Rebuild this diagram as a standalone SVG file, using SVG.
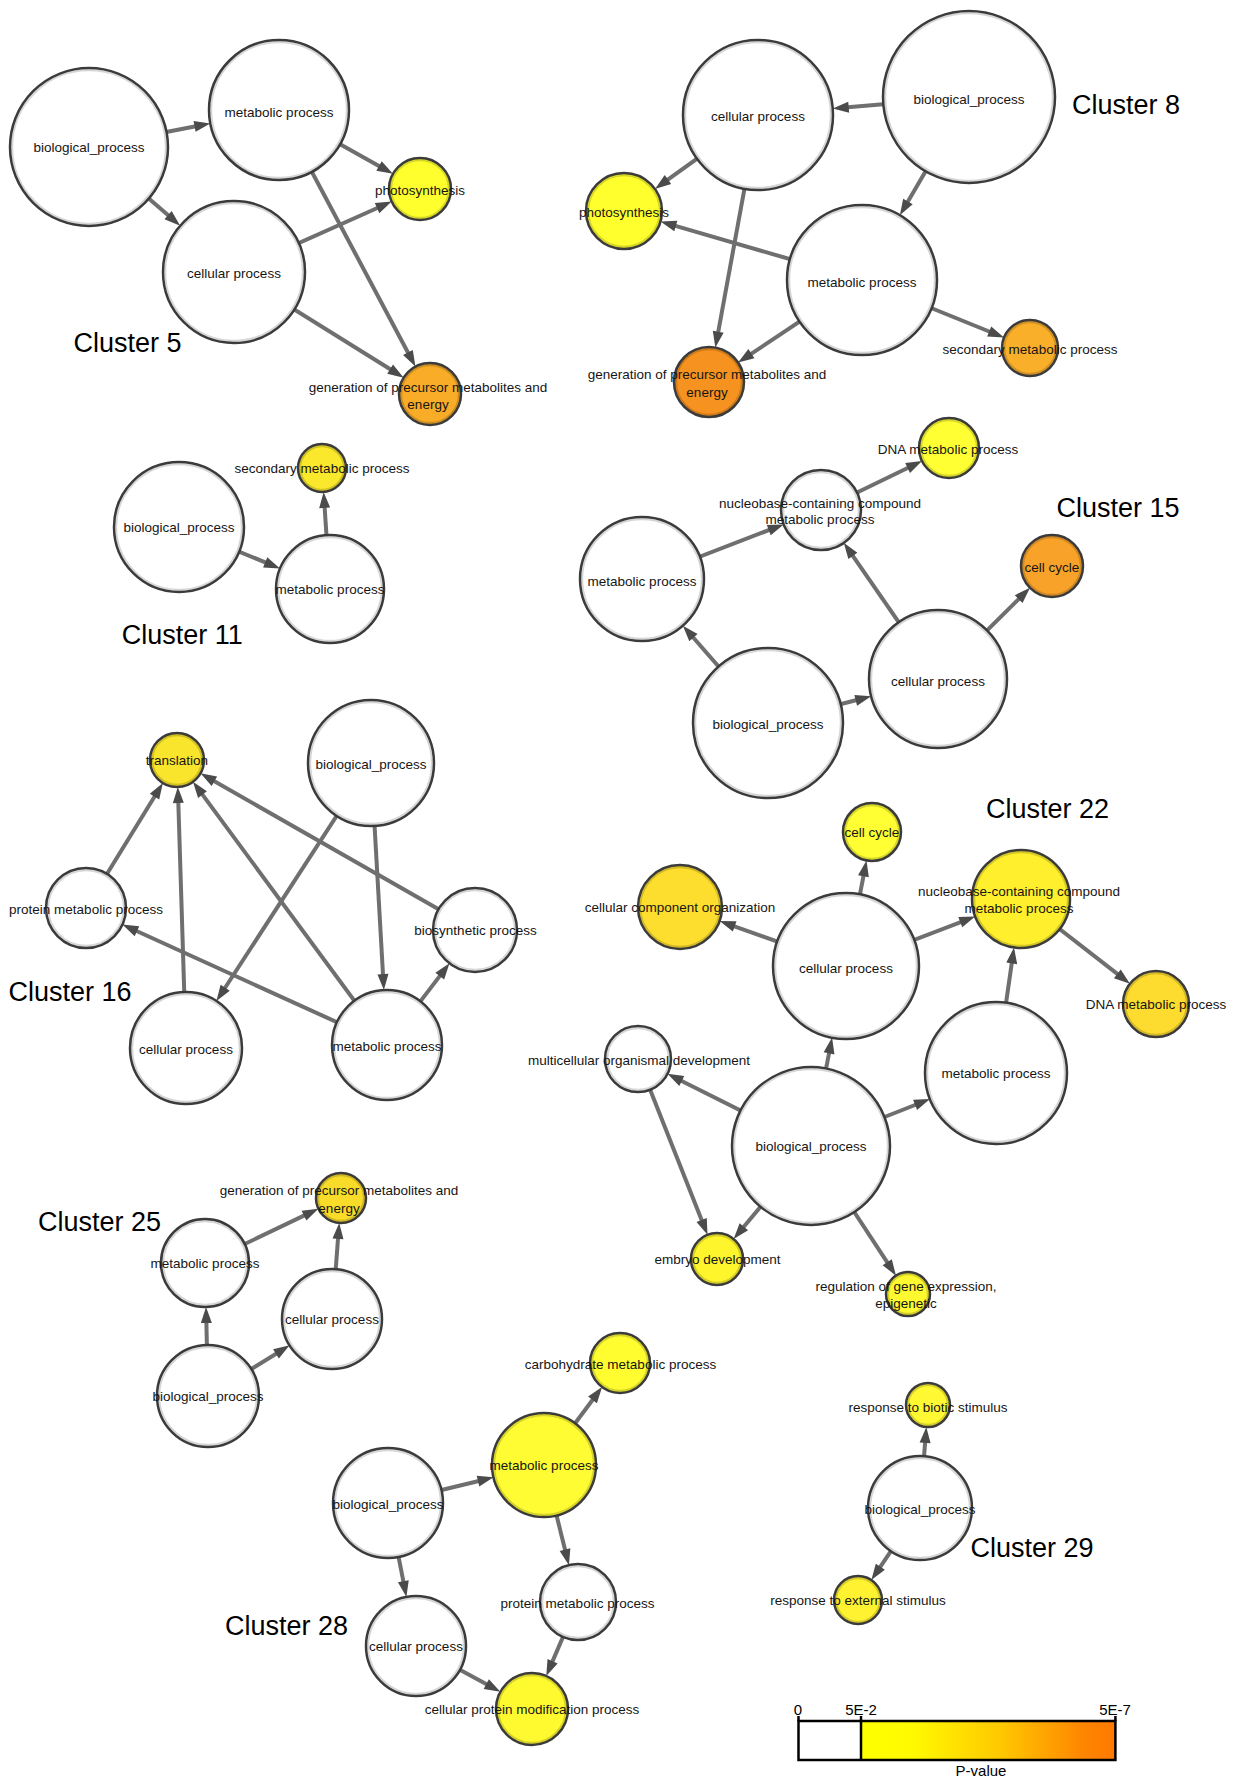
<svg xmlns="http://www.w3.org/2000/svg" width="1237" height="1779" viewBox="0 0 1237 1779">
<style>
.nd{stroke:#3b3b3b;stroke-width:2.5}
.rg{fill:none;stroke:#000;stroke-opacity:.16;stroke-width:2}
.lb{font-family:"Liberation Sans",Arial,Helvetica,sans-serif;font-size:13.5px;fill:#151515;text-anchor:middle}
.ct{font-family:"Liberation Sans",Arial,Helvetica,sans-serif;font-size:27px;fill:#000}
.lg{font-family:"Liberation Sans",Arial,Helvetica,sans-serif;font-size:15px;fill:#000;text-anchor:middle}
.e{stroke:#6f6f6f;stroke-width:4;fill:none;marker-end:url(#ah)}
</style>
<defs>
<marker id="ah" markerUnits="userSpaceOnUse" markerWidth="17" markerHeight="12" refX="4" refY="6" orient="auto" overflow="visible">
<path d="M0,0.5 L16,6 L0,11.5 z" fill="#4b4b4b"/>
</marker>
<linearGradient id="pg" x1="0" y1="0" x2="1" y2="0">
<stop offset="0" stop-color="#FFFF00"/>
<stop offset="0.2" stop-color="#FFFA00"/>
<stop offset="0.55" stop-color="#FFC800"/>
<stop offset="0.88" stop-color="#FF8400"/>
<stop offset="1" stop-color="#FF7A00"/>
</linearGradient>
</defs>
<rect width="1237" height="1779" fill="#fff"/>

<g id="edges">
<!-- Cluster 5 -->
<line class="e" x1="89" y1="147" x2="198.5" y2="125.7"/>
<line class="e" x1="89" y1="147" x2="171.1" y2="217.8"/>
<line class="e" x1="279" y1="110" x2="382.5" y2="168"/>
<line class="e" x1="279" y1="110" x2="409.8" y2="356"/>
<line class="e" x1="234" y1="272" x2="380.7" y2="206.5"/>
<line class="e" x1="234" y1="272" x2="393.5" y2="371.3"/>
<!-- Cluster 8 -->
<line class="e" x1="969" y1="97" x2="844.7" y2="107.6"/>
<line class="e" x1="758" y1="115" x2="664.7" y2="181.9"/>
<line class="e" x1="758" y1="115" x2="717.5" y2="335.8"/>
<line class="e" x1="969" y1="97" x2="905.9" y2="204.9"/>
<line class="e" x1="862" y1="280" x2="672" y2="224.9"/>
<line class="e" x1="862" y1="280" x2="748.1" y2="355.9"/>
<line class="e" x1="862" y1="280" x2="992.9" y2="333"/>
<!-- Cluster 11 -->
<line class="e" x1="179" y1="527" x2="268.9" y2="563.9"/>
<line class="e" x1="330" y1="589" x2="324.4" y2="503.9"/>
<!-- Cluster 15 -->
<line class="e" x1="821" y1="510" x2="911.2" y2="466.3"/>
<line class="e" x1="642" y1="579" x2="772.5" y2="528.7"/>
<line class="e" x1="938" y1="679" x2="850.6" y2="552.7"/>
<line class="e" x1="938" y1="679" x2="1021.5" y2="596.3"/>
<line class="e" x1="768" y1="723" x2="690.8" y2="634.7"/>
<line class="e" x1="768" y1="723" x2="859.6" y2="699.3"/>
<!-- Cluster 16 -->
<line class="e" x1="86" y1="908" x2="156.6" y2="793.2"/>
<line class="e" x1="186" y1="1048" x2="178.2" y2="799"/>
<line class="e" x1="387" y1="1045" x2="200.1" y2="791.4"/>
<line class="e" x1="475" y1="930" x2="210.9" y2="779.3"/>
<line class="e" x1="371" y1="763" x2="223" y2="991"/>
<line class="e" x1="371" y1="763" x2="383.2" y2="978.1"/>
<line class="e" x1="387" y1="1045" x2="133.3" y2="929.5"/>
<line class="e" x1="387" y1="1045" x2="442.2" y2="972.9"/>
<!-- Cluster 22 -->
<line class="e" x1="846" y1="966" x2="864.2" y2="872.3"/>
<line class="e" x1="846" y1="966" x2="730.9" y2="925.1"/>
<line class="e" x1="846" y1="966" x2="964" y2="920.8"/>
<line class="e" x1="1021" y1="899" x2="1120.5" y2="976.4"/>
<line class="e" x1="996" y1="1073" x2="1012.3" y2="959.4"/>
<line class="e" x1="811" y1="1146" x2="829.8" y2="1049.4"/>
<line class="e" x1="811" y1="1146" x2="678.2" y2="1079.2"/>
<line class="e" x1="811" y1="1146" x2="918.8" y2="1103.5"/>
<line class="e" x1="811" y1="1146" x2="741.3" y2="1229.8"/>
<line class="e" x1="811" y1="1146" x2="889.4" y2="1265.6"/>
<line class="e" x1="638" y1="1059" x2="703.1" y2="1223.7"/>
<!-- Cluster 25 -->
<line class="e" x1="205" y1="1263" x2="307.6" y2="1213.9"/>
<line class="e" x1="332" y1="1319" x2="338.3" y2="1234.9"/>
<line class="e" x1="208" y1="1396" x2="206.3" y2="1319"/>
<line class="e" x1="208" y1="1396" x2="279.4" y2="1351.7"/>
<!-- Cluster 28 -->
<line class="e" x1="544" y1="1465" x2="594.9" y2="1396.7"/>
<line class="e" x1="388" y1="1503" x2="481.9" y2="1480.2"/>
<line class="e" x1="544" y1="1465" x2="566" y2="1553.5"/>
<line class="e" x1="388" y1="1503" x2="404.1" y2="1585.2"/>
<line class="e" x1="578" y1="1602" x2="551" y2="1664.9"/>
<line class="e" x1="416" y1="1646" x2="489.8" y2="1686.1"/>
<!-- Cluster 29 -->
<line class="e" x1="920" y1="1508" x2="925.4" y2="1438.9"/>
<line class="e" x1="920" y1="1508" x2="878.1" y2="1570.1"/>
</g>

<!-- Cluster 5 nodes -->
<g id="c5-bp"><circle class="nd" cx="89" cy="147" r="79" fill="#fff"/><circle class="rg" cx="89" cy="147" r="76.8"/><text class="lb" x="89" y="152">biological_process</text></g>
<g id="c5-mp"><circle class="nd" cx="279" cy="110" r="70" fill="#fff"/><circle class="rg" cx="279" cy="110" r="67.8"/><text class="lb" x="279" y="116.5">metabolic process</text></g>
<g id="c5-cp"><circle class="nd" cx="234" cy="272" r="71" fill="#fff"/><circle class="rg" cx="234" cy="272" r="68.8"/><text class="lb" x="234" y="277.8">cellular process</text></g>
<g id="c5-ps"><circle class="nd" cx="420" cy="189" r="31" fill="#FFFF2E"/><circle class="rg" cx="420" cy="189" r="28.8"/><text class="lb" x="420" y="194.8">photosynthesis</text></g>
<g id="c5-gen"><circle class="nd" cx="430" cy="394" r="31" fill="#F8AC28"/><circle class="rg" cx="430" cy="394" r="28.8"/><text class="lb" x="428" y="391.5">generation of precursor metabolites and</text><text class="lb" x="428" y="408.8">energy</text></g>

<!-- Cluster 8 nodes -->
<g id="c8-cp"><circle class="nd" cx="758" cy="115" r="75" fill="#fff"/><circle class="rg" cx="758" cy="115" r="72.8"/><text class="lb" x="758" y="120.5">cellular process</text></g>
<g id="c8-bp"><circle class="nd" cx="969" cy="97" r="86" fill="#fff"/><circle class="rg" cx="969" cy="97" r="83.8"/><text class="lb" x="969" y="103.5">biological_process</text></g>
<g id="c8-mp"><circle class="nd" cx="862" cy="280" r="75" fill="#fff"/><circle class="rg" cx="862" cy="280" r="72.8"/><text class="lb" x="862" y="286.5">metabolic process</text></g>
<g id="c8-ps"><circle class="nd" cx="624" cy="211" r="38" fill="#FFFF2E"/><circle class="rg" cx="624" cy="211" r="35.8"/><text class="lb" x="624" y="216.8">photosynthesis</text></g>
<g id="c8-gen"><circle class="nd" cx="709" cy="382" r="35" fill="#F6921F"/><circle class="rg" cx="709" cy="382" r="32.8"/><text class="lb" x="707" y="379.1">generation of precursor metabolites and</text><text class="lb" x="707" y="396.5">energy</text></g>
<g id="c8-sec"><circle class="nd" cx="1030" cy="348" r="28" fill="#F9AF2A"/><circle class="rg" cx="1030" cy="348" r="25.8"/><text class="lb" x="1030" y="353.5">secondary metabolic process</text></g>

<!-- Cluster 11 nodes -->
<g id="c11-bp"><circle class="nd" cx="179" cy="527" r="65" fill="#fff"/><circle class="rg" cx="179" cy="527" r="62.8"/><text class="lb" x="179" y="532">biological_process</text></g>
<g id="c11-sec"><circle class="nd" cx="322" cy="468" r="24" fill="#F9E82C"/><circle class="rg" cx="322" cy="468" r="21.8"/><text class="lb" x="322" y="473.2">secondary metabolic process</text></g>
<g id="c11-mp"><circle class="nd" cx="330" cy="589" r="54" fill="#fff"/><circle class="rg" cx="330" cy="589" r="51.8"/><text class="lb" x="330" y="594.2">metabolic process</text></g>

<!-- Cluster 15 nodes -->
<g id="c15-dna"><circle class="nd" cx="949" cy="448" r="30" fill="#FFFF33"/><circle class="rg" cx="949" cy="448" r="27.8"/><text class="lb" x="948" y="453.5">DNA metabolic process</text></g>
<g id="c15-nuc"><circle class="nd" cx="821" cy="510" r="40" fill="#fff"/><circle class="rg" cx="821" cy="510" r="37.8"/><text class="lb" x="820" y="507.5">nucleobase-containing compound</text><text class="lb" x="820" y="524.1">metabolic process</text></g>
<g id="c15-mp"><circle class="nd" cx="642" cy="579" r="62" fill="#fff"/><circle class="rg" cx="642" cy="579" r="59.8"/><text class="lb" x="642" y="585.8">metabolic process</text></g>
<g id="c15-cc"><circle class="nd" cx="1052" cy="566" r="31" fill="#F9A22A"/><circle class="rg" cx="1052" cy="566" r="28.8"/><text class="lb" x="1052" y="571.5">cell cycle</text></g>
<g id="c15-cp"><circle class="nd" cx="938" cy="679" r="69" fill="#fff"/><circle class="rg" cx="938" cy="679" r="66.8"/><text class="lb" x="938" y="685.5">cellular process</text></g>
<g id="c15-bp"><circle class="nd" cx="768" cy="723" r="75" fill="#fff"/><circle class="rg" cx="768" cy="723" r="72.8"/><text class="lb" x="768" y="728.5">biological_process</text></g>

<!-- Cluster 16 nodes -->
<g id="c16-tr"><circle class="nd" cx="177" cy="760" r="27" fill="#F9E52B"/><circle class="rg" cx="177" cy="760" r="24.8"/><text class="lb" x="177" y="765.2">translation</text></g>
<g id="c16-bp"><circle class="nd" cx="371" cy="763" r="63" fill="#fff"/><circle class="rg" cx="371" cy="763" r="60.8"/><text class="lb" x="371" y="769.2">biological_process</text></g>
<g id="c16-pmp"><circle class="nd" cx="86" cy="908" r="40" fill="#fff"/><circle class="rg" cx="86" cy="908" r="37.8"/><text class="lb" x="86" y="913.8">protein metabolic process</text></g>
<g id="c16-bios"><circle class="nd" cx="475" cy="930" r="42" fill="#fff"/><circle class="rg" cx="475" cy="930" r="39.8"/><text class="lb" x="475.5" y="935.2">biosynthetic process</text></g>
<g id="c16-cp"><circle class="nd" cx="186" cy="1048" r="56" fill="#fff"/><circle class="rg" cx="186" cy="1048" r="53.8"/><text class="lb" x="186" y="1054">cellular process</text></g>
<g id="c16-mp"><circle class="nd" cx="387" cy="1045" r="55" fill="#fff"/><circle class="rg" cx="387" cy="1045" r="52.8"/><text class="lb" x="387" y="1051.3">metabolic process</text></g>

<!-- Cluster 22 nodes -->
<g id="c22-cc"><circle class="nd" cx="872" cy="832" r="29" fill="#FFFF33"/><circle class="rg" cx="872" cy="832" r="26.8"/><text class="lb" x="872" y="837.4">cell cycle</text></g>
<g id="c22-cco"><circle class="nd" cx="680" cy="907" r="42" fill="#FDDD2E"/><circle class="rg" cx="680" cy="907" r="39.8"/><text class="lb" x="680" y="912.1">cellular component organization</text></g>
<g id="c22-nuc"><circle class="nd" cx="1021" cy="899" r="49" fill="#FFEF2C"/><circle class="rg" cx="1021" cy="899" r="46.8"/><text class="lb" x="1019" y="896.3">nucleobase-containing compound</text><text class="lb" x="1019" y="913.2">metabolic process</text></g>
<g id="c22-dna"><circle class="nd" cx="1156" cy="1004" r="33" fill="#FDDC2F"/><circle class="rg" cx="1156" cy="1004" r="30.8"/><text class="lb" x="1156" y="1009.3">DNA metabolic process</text></g>
<g id="c22-cp"><circle class="nd" cx="846" cy="966" r="73" fill="#fff"/><circle class="rg" cx="846" cy="966" r="70.8"/><text class="lb" x="846" y="972.5">cellular process</text></g>
<g id="c22-mcod"><circle class="nd" cx="638" cy="1059" r="33" fill="#fff"/><circle class="rg" cx="638" cy="1059" r="30.8"/><text class="lb" x="639" y="1065.4">multicellular organismal development</text></g>
<g id="c22-mp"><circle class="nd" cx="996" cy="1073" r="71" fill="#fff"/><circle class="rg" cx="996" cy="1073" r="68.8"/><text class="lb" x="996" y="1078.4">metabolic process</text></g>
<g id="c22-bp"><circle class="nd" cx="811" cy="1146" r="79" fill="#fff"/><circle class="rg" cx="811" cy="1146" r="76.8"/><text class="lb" x="811" y="1151.3">biological_process</text></g>
<g id="c22-emb"><circle class="nd" cx="717" cy="1259" r="26" fill="#FEF52C"/><circle class="rg" cx="717" cy="1259" r="23.8"/><text class="lb" x="717.5" y="1263.9">embryo development</text></g>
<g id="c22-reg"><circle class="nd" cx="908" cy="1294" r="22" fill="#FFFA30"/><circle class="rg" cx="908" cy="1294" r="19.8"/><text class="lb" x="906" y="1291.3">regulation of gene expression,</text><text class="lb" x="906" y="1308.1">epigenetic</text></g>

<!-- Cluster 25 nodes -->
<g id="c25-gen"><circle class="nd" cx="341" cy="1198" r="25" fill="#F9DC2A"/><circle class="rg" cx="341" cy="1198" r="22.8"/><text class="lb" x="339" y="1195.2">generation of precursor metabolites and</text><text class="lb" x="339" y="1213.4">energy</text></g>
<g id="c25-mp"><circle class="nd" cx="205" cy="1263" r="44" fill="#fff"/><circle class="rg" cx="205" cy="1263" r="41.8"/><text class="lb" x="205" y="1268.1">metabolic process</text></g>
<g id="c25-cp"><circle class="nd" cx="332" cy="1319" r="50" fill="#fff"/><circle class="rg" cx="332" cy="1319" r="47.8"/><text class="lb" x="332" y="1324.4">cellular process</text></g>
<g id="c25-bp"><circle class="nd" cx="208" cy="1396" r="51" fill="#fff"/><circle class="rg" cx="208" cy="1396" r="48.8"/><text class="lb" x="208" y="1400.9">biological_process</text></g>

<!-- Cluster 28 nodes -->
<g id="c28-carb"><circle class="nd" cx="620" cy="1363" r="30" fill="#FFFC30"/><circle class="rg" cx="620" cy="1363" r="27.8"/><text class="lb" x="620.5" y="1368.7">carbohydrate metabolic process</text></g>
<g id="c28-mp"><circle class="nd" cx="544" cy="1465" r="52" fill="#FFFC33"/><circle class="rg" cx="544" cy="1465" r="49.8"/><text class="lb" x="544" y="1470.1">metabolic process</text></g>
<g id="c28-bp"><circle class="nd" cx="388" cy="1503" r="55" fill="#fff"/><circle class="rg" cx="388" cy="1503" r="52.8"/><text class="lb" x="388" y="1509.4">biological_process</text></g>
<g id="c28-pmp"><circle class="nd" cx="578" cy="1602" r="38" fill="#fff"/><circle class="rg" cx="578" cy="1602" r="35.8"/><text class="lb" x="577.5" y="1607.5">protein metabolic process</text></g>
<g id="c28-cp"><circle class="nd" cx="416" cy="1646" r="50" fill="#fff"/><circle class="rg" cx="416" cy="1646" r="47.8"/><text class="lb" x="416" y="1651.4">cellular process</text></g>
<g id="c28-cpmp"><circle class="nd" cx="532" cy="1709" r="36" fill="#FFFA30"/><circle class="rg" cx="532" cy="1709" r="33.8"/><text class="lb" x="532" y="1714.3">cellular protein modification process</text></g>

<!-- Cluster 29 nodes -->
<g id="c29-rbs"><circle class="nd" cx="928" cy="1405" r="22" fill="#FFF833"/><circle class="rg" cx="928" cy="1405" r="19.8"/><text class="lb" x="928" y="1411.5">response to biotic stimulus</text></g>
<g id="c29-bp"><circle class="nd" cx="920" cy="1508" r="52" fill="#fff"/><circle class="rg" cx="920" cy="1508" r="49.8"/><text class="lb" x="920" y="1513.5">biological_process</text></g>
<g id="c29-res"><circle class="nd" cx="858" cy="1600" r="24" fill="#FFF230"/><circle class="rg" cx="858" cy="1600" r="21.8"/><text class="lb" x="858" y="1605.1">response to external stimulus</text></g>

<!-- Cluster titles -->
<g id="titles">
<text class="ct" x="73.5" y="351.7">Cluster 5</text>
<text class="ct" x="1072" y="114">Cluster 8</text>
<text class="ct" x="121.7" y="644">Cluster 11</text>
<text class="ct" x="1056.5" y="517">Cluster 15</text>
<text class="ct" x="8.4" y="1001">Cluster 16</text>
<text class="ct" x="986" y="818">Cluster 22</text>
<text class="ct" x="38" y="1230.6">Cluster 25</text>
<text class="ct" x="225" y="1635">Cluster 28</text>
<text class="ct" x="970.5" y="1556.7">Cluster 29</text>
</g>

<!-- Legend -->
<g id="legend">
<rect x="861" y="1721" width="254.4" height="39" fill="url(#pg)"/>
<rect x="798.5" y="1721" width="316.9" height="39" fill="none" stroke="#000" stroke-width="2.5"/>
<line x1="861" y1="1716" x2="861" y2="1760" stroke="#000" stroke-width="2.5"/>
<line x1="798.5" y1="1716" x2="798.5" y2="1721" stroke="#000" stroke-width="2.5"/>
<line x1="1115.4" y1="1716" x2="1115.4" y2="1721" stroke="#000" stroke-width="2.5"/>
<text class="lg" x="798" y="1715">0</text>
<text class="lg" x="861" y="1715">5E-2</text>
<text class="lg" x="1115" y="1715">5E-7</text>
<text class="lg" x="981" y="1776">P-value</text>
</g>
</svg>
